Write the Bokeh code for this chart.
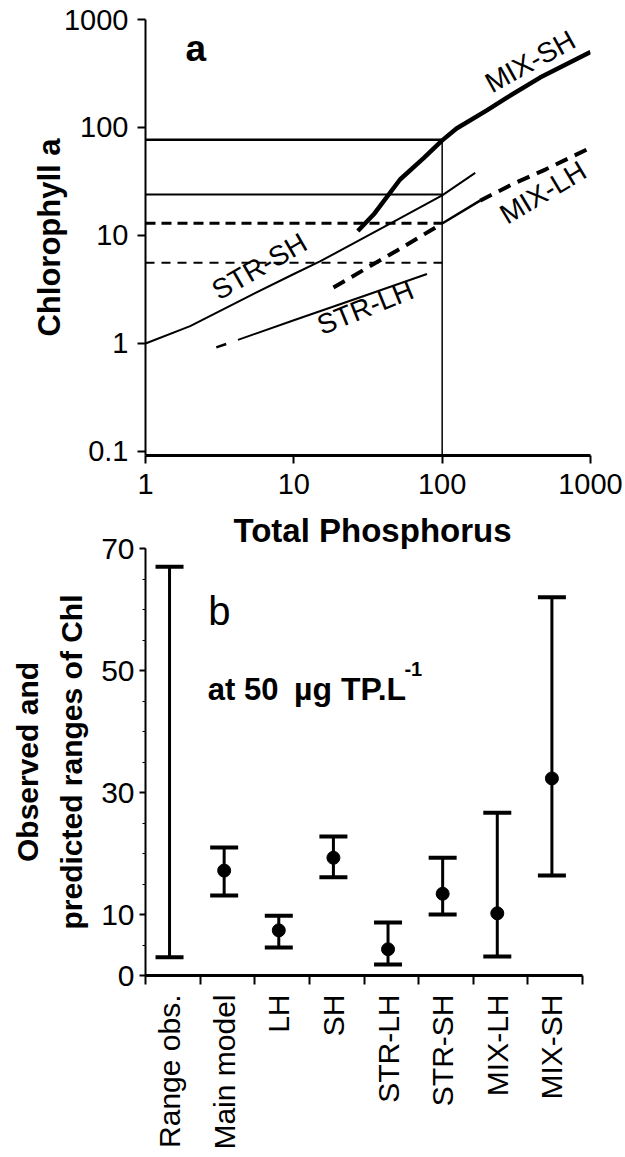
import math
from bokeh.plotting import figure
from bokeh.layouts import column
from bokeh.models import (FixedTicker, CustomJSTickFormatter, Range1d, Whisker, TeeHead,
                          ColumnDataSource, Label, Title)
from bokeh.core.properties import value
from bokeh.embed import file_html
from bokeh.resources import INLINE

FONT = "Liberation Sans"

# ---------------- Panel a data (log-log) ----------------
str_sh_tp = [1, 2, 5, 10, 15, 30, 50, 100, 167]
str_sh_chl = [1.0, 1.45, 2.75, 4.4, 5.75, 9.6, 14.0, 23.5, 38.0]
str_lh_tp = [3.0, 3.5, 4.2, 10, 30, 79]
str_lh_chl = [0.92, 0.99, 1.08, 1.64, 2.77, 4.4]
mix_lh_tp = [18.5, 30, 50, 100, 180, 300, 500, 1000]
mix_lh_chl = [3.3, 4.86, 7.3, 12.9, 21, 30, 41, 65]
mix_sh_tp = [27, 35, 52, 75, 100, 125, 200, 275, 457, 1000]
mix_sh_chl = [11, 16, 33, 52, 76, 98, 144, 190, 290, 500]
ref_tp = 100
ref_chl = [77, 24, 13, 5.6]          # MIX-SH, STR-SH, MIX-LH, STR-LH at TP = 100
x_ticks_a = [1, 10, 100, 1000]
y_ticks_a = [0.1, 1, 10, 100, 1000]
curve_names = ["MIX-SH", "MIX-LH", "STR-SH", "STR-LH"]
curve_label_tp = [392, 479, 5.86, 30.3]
curve_label_chl = [408, 25, 5.16, 2.15]
curve_label_angle = [29, 31, 30, 22]

# ---------------- Panel b data ----------------
categories = ["Range obs.", "Main model", "LH", "SH", "STR-LH", "STR-SH", "MIX-LH", "MIX-SH"]
chl_low = [3.0, 13.1, 4.6, 16.1, 1.8, 10.0, 3.1, 16.4]
chl_pred = [None, 17.2, 7.4, 19.3, 4.3, 13.4, 10.2, 32.3]
chl_high = [67.0, 21.0, 9.8, 22.8, 8.7, 19.3, 26.7, 62.0]
y_ticks_b = [0, 10, 30, 50, 70]

# ================= Panel a =================
pa = figure(x_axis_type="log", y_axis_type="log",
            x_range=Range1d(1, 1000), y_range=Range1d(0.0918, 1000),
            frame_width=445, frame_height=436,
            min_border_left=145, min_border_right=35, min_border_top=19, min_border_bottom=53,
            output_backend="svg", toolbar_location=None, outline_line_color=None,
            background_fill_color="white", border_fill_color="white")
pa.xgrid.grid_line_color = None
pa.ygrid.grid_line_color = None

pa.xaxis.ticker = FixedTicker(ticks=x_ticks_a, minor_ticks=[])
pa.yaxis.ticker = FixedTicker(ticks=y_ticks_a, minor_ticks=[])
pa.xaxis.formatter = CustomJSTickFormatter(code="return tick.toString();")
pa.yaxis.formatter = CustomJSTickFormatter(code="return tick.toString();")
for ax in (pa.xaxis[0], pa.yaxis[0]):
    ax.axis_line_color = "black"
    ax.major_tick_line_color = "black"
    ax.major_tick_line_width = 2
    ax.major_tick_in = 0
    ax.major_tick_out = 8
    ax.minor_tick_line_color = None
    ax.major_label_text_font = FONT
    ax.major_label_text_font_size = "29px"
    ax.major_label_text_color = "black"
pa.xaxis.axis_line_width = 3
pa.yaxis.axis_line_width = 2
pa.xaxis.major_label_standoff = 10
pa.yaxis.major_label_standoff = 9
pa.yaxis.axis_label = "Chlorophyll a"
pa.yaxis.axis_label_text_font = FONT
pa.yaxis.axis_label_text_font_size = "31px"
pa.yaxis.axis_label_text_font_style = "bold"
pa.yaxis.axis_label_text_color = "black"
pa.yaxis.axis_label_standoff = -6

# reference lines at TP = 100
y_bottom = pa.y_range.start
pa.segment(x0=[1], y0=[ref_chl[0]], x1=[ref_tp], y1=[ref_chl[0]], line_color="black", line_width=2.5)
pa.segment(x0=[1], y0=[ref_chl[1]], x1=[ref_tp], y1=[ref_chl[1]], line_color="black", line_width=2)
pa.segment(x0=[1], y0=[ref_chl[2]], x1=[ref_tp], y1=[ref_chl[2]], line_color="black", line_width=3,
           line_dash="10 6")
pa.segment(x0=[1], y0=[ref_chl[3]], x1=[ref_tp], y1=[ref_chl[3]], line_color="black", line_width=2,
           line_dash="9 7")
pa.segment(x0=[ref_tp], y0=[y_bottom], x1=[ref_tp], y1=[ref_chl[0]], line_color="black", line_width=1.5)

# model curves
pa.line(str_sh_tp, str_sh_chl, line_color="black", line_width=2)
pa.line(str_lh_tp[:2], str_lh_chl[:2], line_color="black", line_width=2.5)
pa.line(str_lh_tp[2:], str_lh_chl[2:], line_color="black", line_width=2)
pa.line(mix_lh_tp[:4], mix_lh_chl[:4], line_color="black", line_width=4, line_dash="13 8")
pa.line(mix_lh_tp[3:5], mix_lh_chl[3:5], line_color="black", line_width=2.5)
pa.line(mix_lh_tp[4:], mix_lh_chl[4:], line_color="black", line_width=4, line_dash="13 8")
pa.line(mix_sh_tp, mix_sh_chl, line_color="black", line_width=4.5)

pa.text(x=curve_label_tp, y=curve_label_chl, text=curve_names,
        angle=[math.radians(a) for a in curve_label_angle],
        text_font=value(FONT), text_font_size="28px", text_color="black",
        text_align="center", text_baseline="middle")

pa.add_layout(Label(x=1.86, y=539, text="a", text_font=FONT, text_font_size="37px",
                    text_font_style="bold", text_color="black", text_baseline="alphabetic"))

# ================= Panel b =================
pb = figure(x_range=Range1d(0, len(categories)), y_range=Range1d(0, 70),
            frame_width=437, frame_height=427,
            min_border_left=140, min_border_right=48, min_border_top=40, min_border_bottom=176,
            output_backend="svg", toolbar_location=None, outline_line_color=None,
            background_fill_color="white", border_fill_color="white")
pb.xgrid.grid_line_color = None
pb.ygrid.grid_line_color = None

pb.add_layout(Title(text="Total Phosphorus", align="left", offset=88, standoff=0,
                    text_font=FONT, text_font_size="33px", text_font_style="bold",
                    text_color="black"), "above")

bar_x = [round(i + 0.44, 2) for i in range(len(categories))]

pb.xaxis.ticker = FixedTicker(ticks=bar_x, minor_ticks=list(range(len(categories) + 1)))
pb.xaxis.major_label_overrides = dict(zip(bar_x, categories))
pb.xaxis.major_label_orientation = math.pi / 2
pb.xaxis.major_tick_in = 0
pb.xaxis.major_tick_out = 0
pb.xaxis.minor_tick_in = 0
pb.xaxis.minor_tick_out = 9
pb.xaxis.minor_tick_line_width = 2
pb.xaxis.axis_line_width = 3
pb.xaxis.major_label_standoff = 10

pb.yaxis.ticker = FixedTicker(ticks=y_ticks_b, minor_ticks=list(range(0, 71, 5)))
pb.yaxis.major_tick_in = 0
pb.yaxis.major_tick_out = 6
pb.yaxis.minor_tick_in = 0
pb.yaxis.minor_tick_out = 3
pb.yaxis.axis_line_width = 2
pb.yaxis.major_label_standoff = 5
pb.yaxis.axis_label = "Observed and\npredicted ranges of Chl"
pb.yaxis.axis_label_text_font = FONT
pb.yaxis.axis_label_text_font_size = "30px"
pb.yaxis.axis_label_text_font_style = "bold"
pb.yaxis.axis_label_text_color = "black"
pb.yaxis.axis_label_text_line_height = 1.35
pb.yaxis.axis_label_standoff = 10
for ax in (pb.xaxis[0], pb.yaxis[0]):
    ax.axis_line_color = "black"
    ax.major_tick_line_color = "black"
    ax.minor_tick_line_color = "black"
    ax.major_tick_line_width = 2
    ax.major_label_text_font = FONT
    ax.major_label_text_font_size = "30px"
    ax.major_label_text_color = "black"

src = ColumnDataSource(dict(x=bar_x, lo=chl_low, hi=chl_high))
pb.add_layout(Whisker(source=src, base="x", lower="lo", upper="hi",
                      line_color="black", line_width=3,
                      lower_head=TeeHead(size=28, line_width=4, line_color="black"),
                      upper_head=TeeHead(size=28, line_width=4, line_color="black")))

dot_x = [x for x, m in zip(bar_x, chl_pred) if m is not None]
dot_y = [m for m in chl_pred if m is not None]
pb.scatter(dot_x, dot_y, size=13, color="black")

pb.add_layout(Label(x=1.15, y=59.8, text="b", text_font=FONT, text_font_size="40px",
                    text_color="black", text_baseline="alphabetic"))
pb.add_layout(Label(x=1.14, y=46.9, text="at 50", text_font=FONT,
                    text_font_size="31px", text_font_style="bold", text_color="black",
                    text_baseline="alphabetic"))
pb.add_layout(Label(x=2.72, y=46.9, text="\u00b5g TP.L", text_font=FONT,
                    text_font_size="32px", text_font_style="bold", text_color="black",
                    text_baseline="alphabetic"))
pb.add_layout(Label(x=4.74, y=50.3, text="-1", text_font=FONT, text_font_size="20px",
                    text_font_style="bold", text_color="black", text_baseline="alphabetic"))

layout = column(pa, pb, spacing=0)
open("out.html", "w").write(file_html(layout, INLINE))
